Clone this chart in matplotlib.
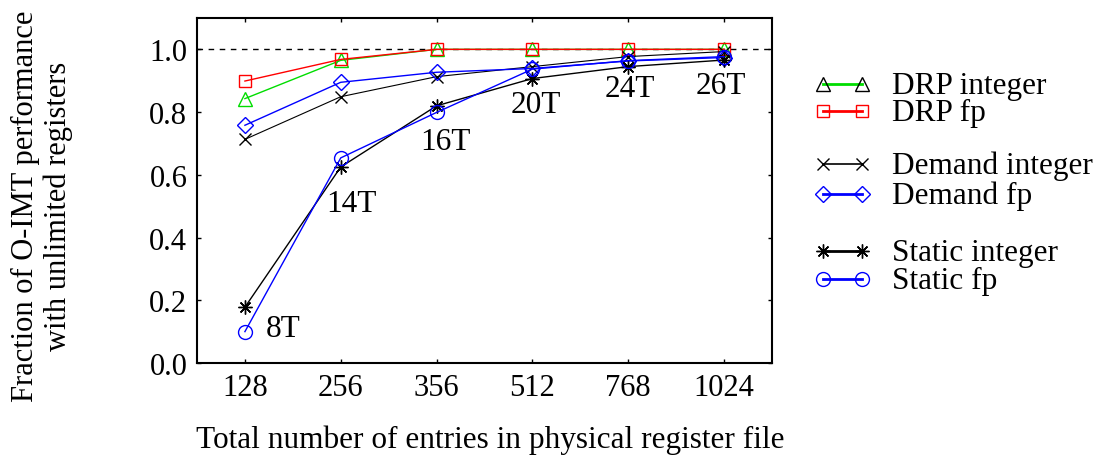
import matplotlib
matplotlib.use("Agg")
import matplotlib.pyplot as plt
from matplotlib.lines import Line2D

plt.rcParams['font.family'] = ['Liberation Serif', 'DejaVu Serif']

# Data
sizes = ['128', '256', '356', '512', '768', '1024']
drp_int = [0.843, 0.965, 1.0, 1.0, 1.0, 1.0]
drp_fp = [0.899, 0.968, 1.0, 1.0, 1.0, 1.0]
demand_int = [0.713, 0.849, 0.913, 0.945, 0.977, 0.993]
demand_fp = [0.758, 0.895, 0.927, 0.939, 0.963, 0.974]
static_int = [0.178, 0.625, 0.820, 0.907, 0.945, 0.966]
static_fp = [0.100, 0.654, 0.799, 0.937, 0.964, 0.977]

thread_labels = ['8T', '14T', '16T', '20T', '24T', '26T']
label_pos = [(0.40, 0.109), (1.11, 0.508), (2.09, 0.706),
             (3.04, 0.824), (4.02, 0.875), (4.97, 0.885)]

W, H = 1113, 460
x = list(range(len(sizes)))

fig = plt.figure(figsize=(W / 100, H / 100), dpi=100)
ax = fig.add_axes([197 / W, 1 - 364 / H, (772 - 197) / W, (364 - 19) / H])

ax.axhline(1.0, color='black', linestyle=(0, (4, 4)), linewidth=1.0, zorder=1)

series = [
    (drp_int, 'DRP integer', dict(color='#00dd00', marker='^', markersize=10,
                                  markerfacecolor='none', linewidth=1.0)),
    (drp_fp, 'DRP fp', dict(color='red', marker='s', markersize=9,
                            markerfacecolor='none', linewidth=1.0)),
    (demand_int, 'Demand integer', dict(color='black', marker='x', markersize=8,
                                        linewidth=0.8)),
    (demand_fp, 'Demand fp', dict(color='blue', marker='D', markersize=8,
                                  markerfacecolor='none', linewidth=1.0)),
    (static_int, 'Static integer', dict(color='black', marker=(8, 2, 0),
                                        markersize=10, linewidth=1.0)),
    (static_fp, 'Static fp', dict(color='blue', marker='o', markersize=10,
                                  markerfacecolor='none', linewidth=1.0)),
]
for vals, lab, st in series:
    ax.plot(x, vals, label=lab, **st)

for lab, (px, py) in zip(thread_labels, label_pos):
    ax.text(px, py, lab, fontsize=22.5, ha='center', va='center')

ax.set_xlim(-0.5, 5.5)
ax.set_ylim(0, 1.1)
ax.set_xticks(x)
ax.set_xticklabels(sizes)
ax.set_yticks([0.0, 0.2, 0.4, 0.6, 0.8, 1.0])
ax.set_yticklabels(['0.0', '0.2', '0.4', '0.6', '0.8', '1.0'])
ax.tick_params(direction='in', length=3, width=1, labelsize=22,
               top=True, right=True, pad=7)
for s in ax.spines.values():
    s.set_linewidth(1.5)

fig.text(42 / W, 1 - 206 / H, 'Fraction of O-IMT performance\nwith unlimited registers',
         rotation=90, ha='center', va='center', fontsize=22,
         multialignment='center', linespacing=1.15)
fig.text(490 / W, 1 - 440 / H, 'Total number of entries in physical register file',
         ha='center', va='center', fontsize=22.5)

# legend drawn by hand (three groups of two rows)
row_y = [85, 112, 165, 195, 252, 280]
for (vals, lab, st), ry in zip(series, row_y):
    st = dict(st)
    st['linewidth'] = 2.0 if lab != 'Demand integer' else 1.2
    if lab == 'DRP integer':
        st['markeredgecolor'] = 'black'
    yf = 1 - ry / H
    fig.add_artist(Line2D([823 / W, 862 / W], [yf, yf], transform=fig.transFigure, **st))
    fig.text(892 / W, 1 - (ry + 9) / H, lab, fontsize=22.5, ha='left', va='baseline')

fig.savefig('out.png', dpi=100)
